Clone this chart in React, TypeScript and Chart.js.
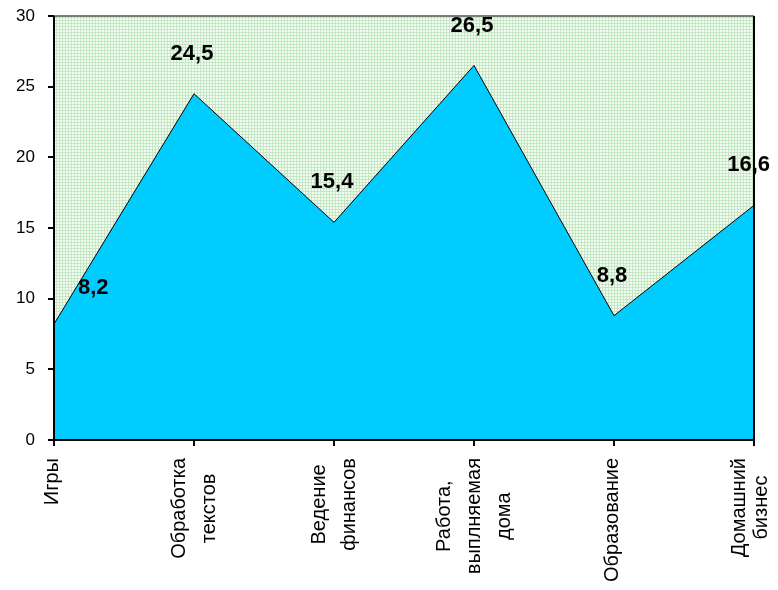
import React, { useEffect, useRef } from "react";
import { Chart, registerables } from "chart.js";

Chart.register(...registerables);

const categories: string[][] = [
  ["Игры"],
  ["Обработка", "текстов"],
  ["Ведение", "финансов"],
  ["Работа,", "выплняемая", "дома"],
  ["Образование"],
  ["Домашний", "бизнес"],
];
const values: number[] = [8.2, 24.5, 15.4, 26.5, 8.8, 16.6];
const yMin = 0;
const yMax = 30;
const yStep = 5;

function makePattern(): CanvasPattern | string {
  const c = document.createElement("canvas");
  c.width = 3;
  c.height = 3;
  const g = c.getContext("2d");
  if (!g) return "#e4f4e4";
  g.fillStyle = "#f4faf4";
  g.fillRect(0, 0, 3, 3);
  g.fillStyle = "#c0ecc0";
  g.fillRect(0, 0, 3, 1);
  g.fillRect(0, 0, 1, 3);
  g.fillStyle = "#d4d8d4";
  g.fillRect(0, 0, 1, 1);
  const p = g.createPattern(c, "repeat");
  return p || "#e4f4e4";
}

export default function App() {
  const ref = useRef<HTMLCanvasElement | null>(null);

  useEffect(() => {
    if (!ref.current) return;
    const pattern = makePattern();

    const bgPlugin = {
      id: "bgPlugin",
      beforeDatasetsDraw(chart: any) {
        const { ctx, chartArea: a } = chart;
        ctx.save();
        ctx.fillStyle = pattern;
        ctx.fillRect(a.left, a.top, a.right - a.left, a.bottom - a.top);
        ctx.restore();
      },
      afterDatasetsDraw(chart: any) {
        const { ctx, chartArea: a } = chart;
        ctx.save();
        ctx.lineWidth = 1.5;
        ctx.strokeStyle = "#555555";
        ctx.beginPath();
        ctx.moveTo(a.left, a.top);
        ctx.lineTo(a.right, a.top);
        ctx.stroke();
        ctx.strokeStyle = "#000000";
        ctx.lineWidth = 2;
        ctx.beginPath();
        ctx.moveTo(a.right, a.top);
        ctx.lineTo(a.right, a.bottom);
        ctx.lineTo(a.left, a.bottom);
        ctx.lineTo(a.left, a.top);
        ctx.stroke();
        ctx.restore();
      },
    };

    const labelPlugin = {
      id: "labelPlugin",
      afterDraw(chart: any) {
        const { ctx } = chart;
        const xs = chart.scales.x;
        const meta = chart.getDatasetMeta(0);
        const maxRight = chart.width;
        ctx.save();
        // data labels
        ctx.fillStyle = "#000";
        ctx.font = "bold 22px 'Liberation Sans', Arial, sans-serif";
        ctx.textBaseline = "middle";
        meta.data.forEach((pt: any, i: number) => {
          const txt = String(values[i]).replace(".", ",");
          const w = ctx.measureText(txt).width;
          if (i === 0) {
            ctx.textAlign = "left";
            ctx.fillText(txt, pt.x + 24, pt.y - 36);
          } else {
            ctx.textAlign = "center";
            const cx = Math.min(pt.x - 2, maxRight - w / 2);
            ctx.fillText(txt, cx, pt.y - 40);
          }
        });
        // category labels
        ctx.font = "20px 'Liberation Sans', Arial, sans-serif";
        ctx.textAlign = "center";
        ctx.textBaseline = "middle";
        const top = xs.top + 18;
        categories.forEach((lines, i) => {
          const x = xs.getPixelForValue(i);
          let maxW = 0;
          lines.forEach((l) => {
            maxW = Math.max(maxW, ctx.measureText(l).width);
          });
          lines.forEach((l, j) => {
            let off = (j - (lines.length - 1) / 2) * 30 - (lines.length === 1 ? 2 : 0);
            const lx = Math.min(x + off, maxRight - 9);
            ctx.save();
            ctx.translate(lx, top);
            ctx.rotate(-Math.PI / 2);
            ctx.fillText(l, -maxW / 2, 0);
            ctx.restore();
          });
        });
        ctx.restore();
      },
    };

    const chart = new Chart(ref.current, {
      type: "line",
      data: {
        labels: categories.map((c) => c.join(" ")),
        datasets: [
          {
            data: values,
            fill: "origin",
            backgroundColor: "#00ccff",
            borderColor: "#000000",
            borderWidth: 1,
            pointRadius: 0,
            tension: 0,
          },
        ],
      },
      options: {
        animation: false,
        responsive: false,
        devicePixelRatio: 1,
        layout: { padding: { left: 0, top: 8, right: 16, bottom: 0 } },
        plugins: {
          legend: { display: false },
          tooltip: { enabled: false },
        },
        scales: {
          x: {
            type: "category",
            offset: false,
            grid: {
              drawOnChartArea: false,
              drawTicks: true,
              tickLength: 6,
              color: "#000000",
              lineWidth: 2,
            },
            border: { display: false },
            ticks: { display: false },
            afterFit(scale: any) {
              scale.height = 142;
              scale.paddingLeft = 0;
              scale.paddingRight = 0;
            },
          },
          y: {
            min: yMin,
            max: yMax,
            grid: {
              drawOnChartArea: false,
              drawTicks: true,
              tickLength: 6,
              color: "#000000",
              lineWidth: 2,
            },
            border: { display: false },
            ticks: {
              stepSize: yStep,
              color: "#000000",
              padding: 13,
              font: { family: "'Liberation Sans', Arial, sans-serif", size: 17 },
            },
            afterFit(scale: any) {
              scale.width = 46;
              scale.paddingTop = 0;
              scale.paddingBottom = 0;
            },
          },
        },
      },
      plugins: [bgPlugin, labelPlugin],
    } as any);

    return () => chart.destroy();
  }, []);

  return (
    <div style={{ width: 762, height: 574 }}>
      <canvas ref={ref} width={762} height={574} style={{ display: "block" }} />
    </div>
  );
}
